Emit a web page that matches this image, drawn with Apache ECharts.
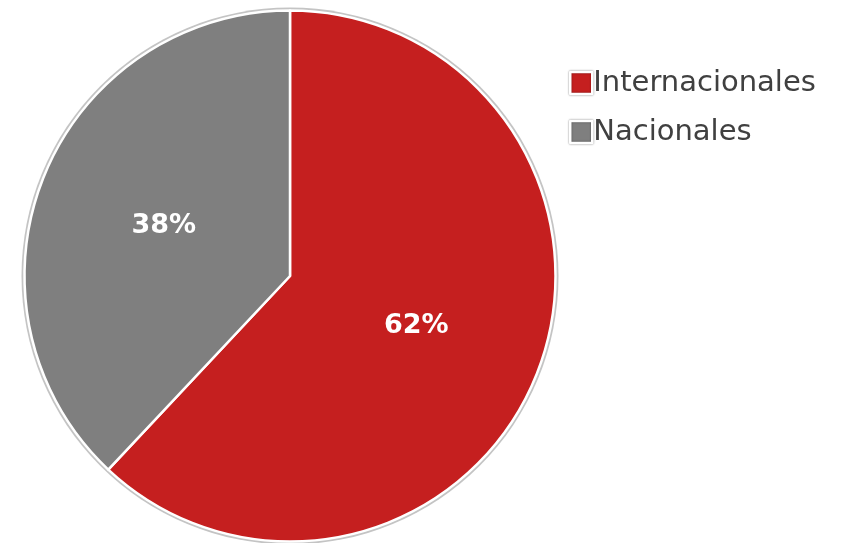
<!DOCTYPE html>
<html>
<head>
<meta charset="utf-8">
<script src="https://cdn.jsdelivr.net/npm/echarts@6/dist/echarts.min.js"></script>
<style>
  html, body { margin: 0; padding: 0; background: #ffffff; }
  #chart { width: 849px; height: 543px; }
</style>
</head>
<body>
<div id="chart"></div>
<script>
// Share of visitors by origin
const categories = ['Internacionales', 'Nacionales'];
const shares = [62, 38];
const colors = ['#c51f1f', '#7f7f7f'];

const FONT = 'DejaVu Sans';
const center = [290, 276];

const chart = echarts.init(document.getElementById('chart'), null, { renderer: 'canvas' });

chart.setOption({
  animation: false,
  backgroundColor: '#ffffff',
  legend: {
    left: 564,
    top: 63,
    orient: 'vertical',
    icon: 'rect',
    itemWidth: 22,
    itemHeight: 22,
    itemGap: 19,
    data: categories,
    itemStyle: {
      borderColor: '#ffffff',
      borderWidth: 2.5,
      shadowColor: 'rgba(0,0,0,0.45)',
      shadowBlur: 2
    },
    textStyle: {
      fontFamily: FONT,
      fontSize: 29,
      lineHeight: 30,
      color: '#404040',
      padding: [0, 0, 0, -4]
    }
  },
  series: [
    {
      // thin light outline around the whole disc
      type: 'pie',
      silent: true,
      center: center,
      radius: [0, 268.5],
      label: { show: false },
      labelLine: { show: false },
      itemStyle: { color: '#c4c4c4' },
      data: [{ value: 1, name: '' }],
      legendHoverLink: false
    },
    {
      type: 'pie',
      center: center,
      radius: [0, 265.5],
      startAngle: 90,
      clockwise: true,
      data: categories.map((name, i) => ({
        name: name,
        value: shares[i],
        itemStyle: { color: colors[i] }
      })),
      itemStyle: { borderColor: '#ffffff', borderWidth: 2.5 },
      label: {
        show: true,
        position: 'inside',
        formatter: p => p.value + '%',
        color: '#ffffff',
        fontFamily: FONT,
        fontWeight: 'bold',
        fontSize: 27
      },
      labelLine: { show: false },
      emphasis: { disabled: true }
    }
  ]
});
</script>
</body>
</html>
